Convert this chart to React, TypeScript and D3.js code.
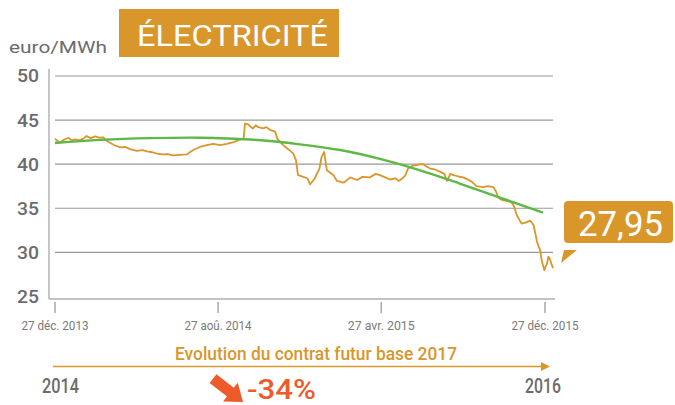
import React from "react";
import * as d3 from "d3";

// Prix du contrat futur base 2017 (euro/MWh)
const priceDates = [
  "2013-12-27", "2013-12-31", "2014-01-04", "2014-01-10", "2014-01-16", "2014-01-21", "2014-01-26",
  "2014-02-02", "2014-02-07", "2014-02-12", "2014-02-18", "2014-02-25", "2014-03-03", "2014-03-09",
  "2014-03-14", "2014-03-24", "2014-04-03", "2014-04-11", "2014-04-18", "2014-04-28", "2014-05-06",
  "2014-05-13", "2014-05-21", "2014-05-28", "2014-06-05", "2014-06-13", "2014-06-21", "2014-07-01",
  "2014-07-11", "2014-07-21", "2014-07-31", "2014-08-10", "2014-08-20", "2014-08-30", "2014-09-09",
  "2014-09-19", "2014-09-29", "2014-10-04", "2014-10-06", "2014-10-11", "2014-10-15", "2014-10-18",
  "2014-10-22", "2014-10-26", "2014-11-02", "2014-11-07", "2014-11-12", "2014-11-20", "2014-11-23",
  "2014-12-02", "2014-12-10", "2014-12-17", "2014-12-21", "2014-12-24", "2015-01-01", "2015-01-07",
  "2015-01-11", "2015-01-18", "2015-01-25", "2015-01-28", "2015-02-01", "2015-02-05", "2015-02-15",
  "2015-02-20", "2015-03-02", "2015-03-12", "2015-03-22", "2015-03-30", "2015-04-10", "2015-04-19",
  "2015-04-25", "2015-05-03", "2015-05-10", "2015-05-18", "2015-05-23", "2015-05-29", "2015-06-02",
  "2015-06-06", "2015-06-12", "2015-06-19", "2015-06-25", "2015-06-29", "2015-07-04", "2015-07-09",
  "2015-07-16", "2015-07-24", "2015-07-30", "2015-08-03", "2015-08-08", "2015-08-13", "2015-08-20",
  "2015-08-27", "2015-09-02", "2015-09-09", "2015-09-16", "2015-09-21", "2015-09-26", "2015-10-03",
  "2015-10-11", "2015-10-15", "2015-10-18", "2015-10-22", "2015-10-26", "2015-11-01", "2015-11-07",
  "2015-11-11", "2015-11-15", "2015-11-22", "2015-11-29", "2015-12-05", "2015-12-10", "2015-12-13",
  "2015-12-15", "2015-12-20", "2015-12-22", "2015-12-26", "2015-12-28", "2015-12-30", "2016-01-01",
  "2016-01-03", "2016-01-06", "2016-01-08",
];
const priceValues = [
  42.9, 42.6, 42.5, 42.8, 43.0, 42.7, 42.8,
  42.7, 42.9, 43.2, 42.95, 43.15, 43.0, 43.05,
  42.65, 42.2, 41.9, 41.95, 41.7, 41.5, 41.6,
  41.45, 41.35, 41.2, 41.1, 41.15, 41.0, 41.05,
  41.1, 41.6, 41.95, 42.15, 42.3, 42.15, 42.3,
  42.5, 42.8, 42.85, 44.6, 44.5, 44.2, 44.05,
  44.4, 44.2, 44.05, 44.2, 43.9, 43.7, 42.9,
  42.16, 41.67, 41.2, 40.45, 38.75, 38.56, 38.4,
  37.7, 38.4, 39.5, 40.8, 41.4, 39.3, 38.75,
  38.1, 37.9, 38.5, 38.2, 38.56, 38.5, 38.9,
  38.75, 38.5, 38.26, 38.4, 38.1, 38.4, 38.75,
  39.5, 39.8, 39.9, 40.0, 39.97, 39.7, 39.5,
  39.4, 39.13, 38.9, 38.1, 38.9, 38.75, 38.6,
  38.5, 38.3, 38.0, 37.5, 37.45, 37.4, 37.5,
  37.4, 36.9, 36.3, 36.0, 35.9, 35.8, 35.7,
  35.2, 34.2, 33.26, 33.4, 33.6, 33.07, 32.0,
  31.2, 30.2, 29.1, 27.95, 28.4, 28.7, 29.5,
  29.3, 28.6, 28.2,
];

// Tendance
const trendDates = [
  "2013-12-27", "2014-03-04", "2014-05-18", "2014-07-31", "2014-10-14", "2014-12-27",
  "2015-02-25", "2015-04-25", "2015-06-24", "2015-08-22", "2015-10-21", "2015-12-24",
];
const trendValues = [42.4, 42.75, 42.95, 43.0, 42.8, 42.25, 41.6, 40.6, 39.3, 37.8, 36.2, 34.5];

const yTicks = [25, 30, 35, 40, 45, 50];
const xTickDates = ["2013-12-27", "2014-08-27", "2015-04-27", "2015-12-27"];
const xTickLabels = ["27 déc. 2013", "27 aoû. 2014", "27 avr. 2015", "27 déc. 2015"];

const ORANGE = "#D9962B";
const GREEN = "#5DB846";
const GREY = "#6b6b6b";
const SANS = "Roboto, sans-serif";

const parse = d3.timeParse("%Y-%m-%d");

export default function App() {
  const x = d3
    .scaleTime()
    .domain([parse("2013-12-27")!, parse("2015-12-27")!])
    .range([55, 545]);
  const y = d3.scaleLinear().domain([25, 50]).range([296.4, 76]);

  const price = priceDates.map((d, i) => ({ date: parse(d)!, v: priceValues[i] }));
  const trend = trendDates.map((d, i) => ({ date: parse(d)!, v: trendValues[i] }));

  const priceLine = d3
    .line<{ date: Date; v: number }>()
    .x(d => x(d.date))
    .y(d => y(d.v));
  const trendLine = d3
    .line<{ date: Date; v: number }>()
    .x(d => x(d.date))
    .y(d => y(d.v))
    .curve(d3.curveCatmullRom);

  return (
    <svg
      width={675}
      height={405}
      style={{ position: "absolute", left: 0, top: 0, background: "#fff" }}
    >
      {/* titre */}
      <rect x={119} y={9} width={220} height={48} fill={ORANGE} />
      <text
        x={137}
        y={46}
        fontFamily={SANS}
        fontSize={30}
        fill="#fff"
        textLength={191}
        lengthAdjust="spacingAndGlyphs"
      >
        ÉLECTRICITÉ
      </text>
      <text x={9} y={53} fontFamily={SANS} fontSize={16.5} fill={GREY} textLength={98} lengthAdjust="spacingAndGlyphs">
        euro/MWh
      </text>

      {/* grille */}
      {yTicks.filter(t => t > 25).map(t => (
        <line key={t} x1={55} x2={553} y1={y(t)} y2={y(t)} stroke="#9a9a9a" strokeWidth={1.2} />
      ))}
      {yTicks.map(t => (
        <text
          key={t}
          x={39}
          y={y(t)}
          dy="0.36em"
          textAnchor="end"
          fontFamily={SANS}
          fontWeight={500}
          fontSize={18}
          fill={GREY}
          textLength={22}
          lengthAdjust="spacingAndGlyphs"
        >
          {t}
        </text>
      ))}

      {/* axes */}
      <line x1={49} x2={49} y1={69} y2={299} stroke="#a8a8a8" strokeWidth={1.3} />
      <line x1={49} x2={555} y1={299} y2={299} stroke="#b0b0b0" strokeWidth={1.3} />
      {xTickDates.map((d, i) => (
        <g key={d} transform={`translate(${x(parse(d)!)},0)`}>
          <line y1={302} y2={313} stroke="#9a9a9a" strokeWidth={1.3} />
          <text
            y={329.5}
            textAnchor="middle"
            fontFamily={SANS}
            fontSize={13}
            fill="#7a7a7a"
            textLength={67}
            lengthAdjust="spacingAndGlyphs"
          >
            {xTickLabels[i]}
          </text>
        </g>
      ))}

      {/* courbes */}
      <path d={priceLine(price)!} fill="none" stroke={ORANGE} strokeWidth={1.8} strokeLinejoin="round" />
      <path d={trendLine(trend)!} fill="none" stroke={GREEN} strokeWidth={2.4} />

      {/* étiquette dernière valeur */}
      <rect x={564} y={201} width={109} height={42} rx={4} fill={ORANGE} />
      <path d="M564,250 L577,250 L561,263 Z" fill={ORANGE} />
      <text
        x={578}
        y={236}
        fontFamily={SANS}
        fontSize={35}
        fill="#fff"
        textLength={85}
        lengthAdjust="spacingAndGlyphs"
      >
        27,95
      </text>

      {/* bas */}
      <text
        x={175}
        y={360}
        fontFamily={SANS}
        fontWeight={500}
        fontSize={17.5}
        fill={ORANGE}
        textLength={282}
        lengthAdjust="spacingAndGlyphs"
      >
        Evolution du contrat futur base 2017
      </text>
      <line x1={53} x2={542} y1={366.5} y2={366.5} stroke={ORANGE} strokeWidth={1.5} />
      <path d="M541,362 L550,366.5 L541,371 Z" fill={ORANGE} />
      <text x={42} y={393} fontFamily={SANS} fontWeight={500} fontSize={19.5} fill={GREY} textLength={37} lengthAdjust="spacingAndGlyphs">
        2014
      </text>
      <text x={525} y={393} fontFamily={SANS} fontWeight={500} fontSize={19.5} fill={GREY} textLength={36} lengthAdjust="spacingAndGlyphs">
        2016
      </text>
      <g transform="translate(243,402) rotate(38)">
        <path d="M-38,-5.5 L-16,-5.5 L-16,-12 L0,0 L-16,12 L-16,5.5 L-38,5.5 Z" fill="#EE5A2A" />
      </g>
      <text
        x={247}
        y={399}
        fontFamily={SANS}
        fontWeight={500}
        fontSize={28}
        fill="#EE5A2A"
        textLength={69}
        lengthAdjust="spacingAndGlyphs"
      >
        -34%
      </text>
    </svg>
  );
}
